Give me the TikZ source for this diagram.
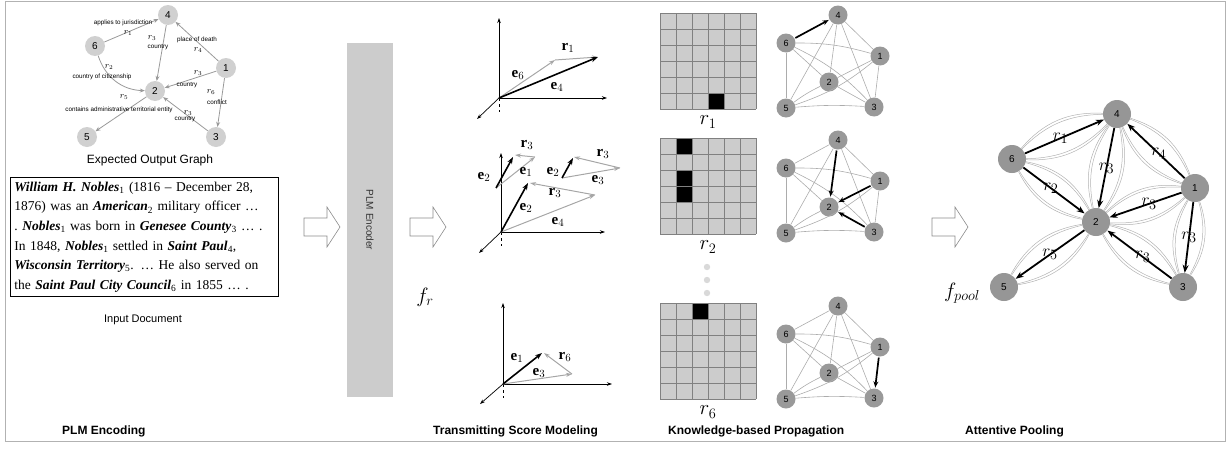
\documentclass[tikz,border=0pt]{standalone}
\usepackage{amsmath,amssymb}
\usepackage{fontspec}
\setmainfont{Liberation Serif}
\setsansfont{Liberation Sans}
\usetikzlibrary{arrows.meta}

\newcommand{\ent}[2]{\textbf{\textit{#1}}\textsubscript{#2}}

\tikzset{
  gnode/.style={circle, fill=gray!37, minimum size=20pt, inner sep=0pt, font=\sffamily\fontsize{10}{10}\selectfont},
  gedge/.style={draw=gray!80, line width=0.8pt, -{Stealth[length=5pt,width=4pt]}},
  glab/.style={font=\sffamily\fontsize{6.3}{7}\selectfont, inner sep=0pt},
  grel/.style={font=\fontsize{9}{9}\selectfont, inner sep=0pt},
  harrow/.style={draw=gray!90, line width=0.6pt, fill=white},
  axisline/.style={line width=0.7pt, -{Stealth[length=5pt,width=3.5pt]}},
  bvec/.style={line width=1.6pt, -{Stealth[length=7pt,width=5pt]}},
  gvec/.style={draw=gray!70, line width=1pt, -{Stealth[length=6pt,width=4pt]}},
  vlab/.style={font=\fontsize{15}{15}\selectfont, inner sep=0pt},
  mlab/.style={font=\fontsize{20}{20}\selectfont, inner sep=0pt},
  cellline/.style={draw=gray, line width=0.8pt},
  knode/.style={circle, fill=gray!80, minimum size=19pt, inner sep=0pt, font=\sffamily\fontsize{9}{9}\selectfont},
  kedge/.style={draw=gray!65, line width=0.6pt},
  kbold/.style={line width=1.7pt, -{Stealth[length=6pt,width=5pt]}, shorten >=1pt, shorten <=1pt},
  pnode/.style={circle, fill=gray!82, minimum size=28pt, inner sep=0pt, font=\sffamily\fontsize{10}{10}\selectfont},
  lens/.style={draw=gray!60, line width=0.5pt},
  pedge/.style={line width=1.8pt, -{Stealth[length=8pt,width=6pt]}},
  plab/.style={font=\fontsize{19}{19}\selectfont, inner sep=0pt},
  steptitle/.style={font=\sffamily\bfseries\fontsize{12}{12}\selectfont, anchor=west, inner sep=0pt},
}

\begin{document}
\begin{tikzpicture}[x=1pt,y=1pt,yscale=-1,xscale=1]
\useasboundingbox (0,0) rectangle (1230,450);

%Frame
\draw [gray!60, line width=1pt] (5,1) rectangle (1225,441);

%%% PLM Encoding
% expected output graph
\node [gnode] (g4) at (168,15) {4};
\node [gnode] (g6) at (95,46) {6};
\node [gnode] (g1) at (226,68) {1};
\node [gnode] (g2) at (155,91) {2};
\node [gnode] (g5) at (87,137) {5};
\node [gnode] (g3) at (216,137) {3};

\draw [gedge] (g6) -- (g4);
\draw [gedge] (g4) -- (g2);
\draw [gedge] (g1) -- (g4);
\draw [gedge] (g6) to[bend left=35] (g2);
\draw [gedge] (g1) -- (g2);
\draw [gedge] (g1) -- (g3);
\draw [gedge] (g2) -- (g5);
\draw [gedge] (g3) -- (g2);

% Text Node
\node [glab] (l64) at (123,23) {applies to jurisdiction};
\node [grel] (r64) at (128,33) {$r_1$};
\node [grel] (r42) at (152,38) {$r_3$};
\node [glab] (l42) at (158,47) {country};
\node [glab] (l14) at (197,40) {place of death};
\node [grel] (r14) at (198,50) {$r_4$};
\node [grel] (r62) at (109,67) {$r_2$};
\node [glab] (l62) at (102,77) {country of citizenship};
\node [grel] (r12) at (198,73) {$r_3$};
\node [glab] (l12) at (187,85) {country};
\node [grel] (r13) at (211,92) {$r_6$};
\node [glab] (l13) at (217,102) {conflict};
\node [grel] (r25) at (124,97) {$r_5$};
\node [glab] (l25) at (119,110) {contains administrative territorial entity};
\node [grel] (r32) at (188,113) {$r_3$};
\node [glab] (l32) at (185,119) {country};
\node [font=\sffamily\fontsize{12}{12}\selectfont] (outtitle) at (150,160) {Expected Output Graph};

% input document
\node [draw, line width=0.8pt, anchor=north west, inner xsep=4pt, inner ysep=4.5pt, text width=260pt, align=left,
       font=\fontsize{13.5}{19.6}\selectfont] (doc) at (10,177)
  {\ent{William H. Nobles}{1} (1816 – December 28,\\
   1876) was an \ent{American}{2} military officer …\\
   .~\ent{Nobles}{1} was born in \ent{Genesee County}{3}~…~.\\
   In 1848, \ent{Nobles}{1} settled in \ent{Saint Paul}{4},\\
   \ent{Wisconsin Territory}{5}. … He also served on\\
   the \ent{Saint Paul City Council}{6} in 1855~…~.};
\node [font=\sffamily\fontsize{11}{11}\selectfont] (doctitle) at (143,320) {Input Document};

% hollow arrows
\draw [harrow] (304,218) -- (327,218) -- (327,207) -- (340,227) -- (327,247) -- (327,236) -- (304,236) -- cycle;
\draw [harrow] (410,218) -- (433,218) -- (433,207) -- (446,227) -- (433,247) -- (433,236) -- (410,236) -- cycle;
\draw [harrow] (932,218) -- (955,218) -- (955,207) -- (968,227) -- (955,247) -- (955,236) -- (932,236) -- cycle;

% encoder
\node [fill=gray!40, rotate=-90, minimum width=354pt, minimum height=46pt, inner sep=0pt,
       font=\sffamily\fontsize{10}{10}\selectfont, text=black!80] (plm) at (370,220) {PLM Encoder};

\node [font=\fontsize{22}{22}\selectfont] (fr) at (425,297) {$f_r$};
\node [font=\fontsize{22}{22}\selectfont] (fpool) at (962,293) {$f_{pool}$};

%%% Transmitting Score Modeling
% r1
\coordinate (o1) at (499,98);
\draw [axisline] (o1) -- (499,18);
\draw [axisline] (o1) -- (607,98);
\draw [axisline] (o1) -- (477,119);
\draw [dashed, line width=0.5pt] (o1) -- (499,112);
\coordinate (a6) at (555,60);
\coordinate (a4) at (598,57);
\draw [gvec] (o1) -- (a6);
\draw [gvec] (a6) -- (a4);
\draw [bvec] (o1) -- (a4);
\node [vlab] at (518,75) {$\mathbf{e}_6$};
\node [vlab] at (557,87) {$\mathbf{e}_4$};
\node [vlab] at (568,48) {$\mathbf{r}_1$};

% r2
\coordinate (o2) at (501,232);
\draw [axisline] (o2) -- (501,153);
\draw [axisline] (o2) -- (605,232);
\draw [axisline] (o2) -- (479,253);
\draw [dashed, line width=0.5pt] (o2) -- (501,246);
\coordinate (b2) at (528,183);
\coordinate (b4) at (595,195);
\draw [gvec] (o2) -- (b4);
\draw [gvec] (b4) -- (530,183);
\draw [bvec] (o2) -- (b2);
\node [vlab] at (526,208) {$\mathbf{e}_2$};
\node [vlab] at (558,222) {$\mathbf{e}_4$};
\node [vlab] at (555,193) {$\mathbf{r}_3$};
\coordinate (c0) at (496,188);
\coordinate (c1) at (535,157);
\draw [gvec] (c0) -- (c1);
\draw [gvec] (c1) -- (515,155);
\draw [bvec] (c0) -- (513,157);
\node [vlab] at (484,177) {$\mathbf{e}_2$};
\node [vlab] at (526,172) {$\mathbf{e}_1$};
\node [vlab] at (527,145) {$\mathbf{r}_3$};
\coordinate (d0) at (562,178);
\coordinate (d3) at (620,168);
\draw [gvec] (d0) -- (d3);
\draw [gvec] (d3) -- (574,157);
\draw [bvec] (d0) -- (573,158);
\node [vlab] at (553,172) {$\mathbf{e}_2$};
\node [vlab] at (598,180) {$\mathbf{e}_3$};
\node [vlab] at (603,154) {$\mathbf{r}_3$};

% r6
\coordinate (o3) at (503,384);
\draw [axisline] (o3) -- (503,303);
\draw [axisline] (o3) -- (612,384);
\draw [axisline] (o3) -- (480,404);
\draw [dashed, line width=0.5pt] (o3) -- (503,398);
\coordinate (f3) at (572,374);
\draw [gvec] (o3) -- (f3);
\draw [gvec] (f3) -- (544,353);
\draw [bvec] (o3) -- (542,353);
\node [vlab] at (517,358) {$\mathbf{e}_1$};
\node [vlab] at (539,373) {$\mathbf{e}_3$};
\node [vlab] at (565,357) {$\mathbf{r}_6$};

%%% Knowledge-based Propagation
% matrices
\begin{scope}[shift={(660,13)}]
  \fill [gray!40] (0,0) rectangle (96,96);
  \fill (48,80) rectangle (64,96);
  \foreach \k in {0,16,...,96} {\draw [cellline] (\k,0) -- (\k,96); \draw [cellline] (0,\k) -- (96,\k);}
\end{scope}
\node [mlab] at (708,122) {$r_1$};

\begin{scope}[shift={(660,138)}]
  \fill [gray!40] (0,0) rectangle (96,96);
  \foreach \r in {0,32,48} \fill (16,\r) rectangle (32,\r+16);
  \foreach \k in {0,16,...,96} {\draw [cellline] (\k,0) -- (\k,96); \draw [cellline] (0,\k) -- (96,\k);}
\end{scope}
\node [mlab] at (708,247) {$r_2$};

\foreach \dy in {267,280,293} \fill [gray!30] (707,\dy) circle (3.2);

\begin{scope}[shift={(660,303)}]
  \fill [gray!40] (0,0) rectangle (96,96);
  \fill (32,0) rectangle (48,16);
  \foreach \k in {0,16,...,96} {\draw [cellline] (\k,0) -- (\k,96); \draw [cellline] (0,\k) -- (96,\k);}
\end{scope}
\node [mlab] at (708,412) {$r_6$};

% graphs
\foreach \g/\dy in {a/0,b/125,c/291} {
  \node [knode] (\g4) at (838,15+\dy) {4};
  \node [knode] (\g6) at (786,43+\dy) {6};
  \node [knode] (\g1) at (880,56+\dy) {1};
  \node [knode] (\g2) at (829,82+\dy) {2};
  \node [knode] (\g5) at (786,108+\dy) {5};
  \node [knode] (\g3) at (874,107+\dy) {3};
  \foreach \u/\v/\b in {6/4/0, 4/5/0, 4/2/0, 4/3/0, 4/1/0, 6/1/-8, 6/2/0, 6/3/-10, 6/5/0,
                        1/2/0, 1/5/-10, 1/3/0, 2/5/5, 2/3/0, 5/3/-4}
    \draw [kedge] (\g\u) to[bend left=\b] (\g\v);
}
\draw [kbold] (a6) -- (a4);
\draw [kbold] (b4) -- (b2);
\draw [kbold] (b1) -- (b2);
\draw [kbold] (b3) -- (b2);
\draw [kbold] (c1) -- (c3);

%%% Attentive Pooling
\node [pnode] (p4) at (1117,114) {4};
\node [pnode] (p6) at (1012,159) {6};
\node [pnode] (p1) at (1195,188) {1};
\node [pnode] (p2) at (1096,222) {2};
\node [pnode] (p5) at (1004,287) {5};
\node [pnode] (p3) at (1183,287) {3};

\foreach \u/\v in {6/4, 4/2, 1/4, 6/2, 1/2, 1/3, 2/5, 3/2} {
  \draw [lens] (p\u) to[bend left=26] (p\v);
  \draw [lens] (p\u) to[bend left=22] (p\v);
  \draw [lens] (p\u) to[bend right=26] (p\v);
  \draw [lens] (p\u) to[bend right=22] (p\v);
}
\draw [pedge] (p6) -- node [plab, pos=.45] {$r_1$} (p4);
\draw [pedge] (p4) -- node [plab, pos=.5] {$r_3$} (p2);
\draw [pedge] (p1) -- node [plab, pos=.45] {$r_4$} (p4);
\draw [pedge] (p6) -- node [plab, pos=.45] {$r_2$} (p2);
\draw [pedge] (p1) -- node [plab, pos=.45] {$r_3$} (p2);
\draw [pedge] (p1) -- node [plab, pos=.5] {$r_3$} (p3);
\draw [pedge] (p2) -- node [plab, pos=.5] {$r_5$} (p5);
\draw [pedge] (p3) -- node [plab, pos=.45] {$r_3$} (p2);

% step titles
\node [steptitle] (t1) at (62,431) {PLM Encoding};
\node [steptitle] (t2) at (433,431) {Transmitting Score Modeling};
\node [steptitle] (t3) at (668,431) {Knowledge-based Propagation};
\node [steptitle] (t4) at (965,431) {Attentive Pooling};

\end{tikzpicture}
\end{document}
